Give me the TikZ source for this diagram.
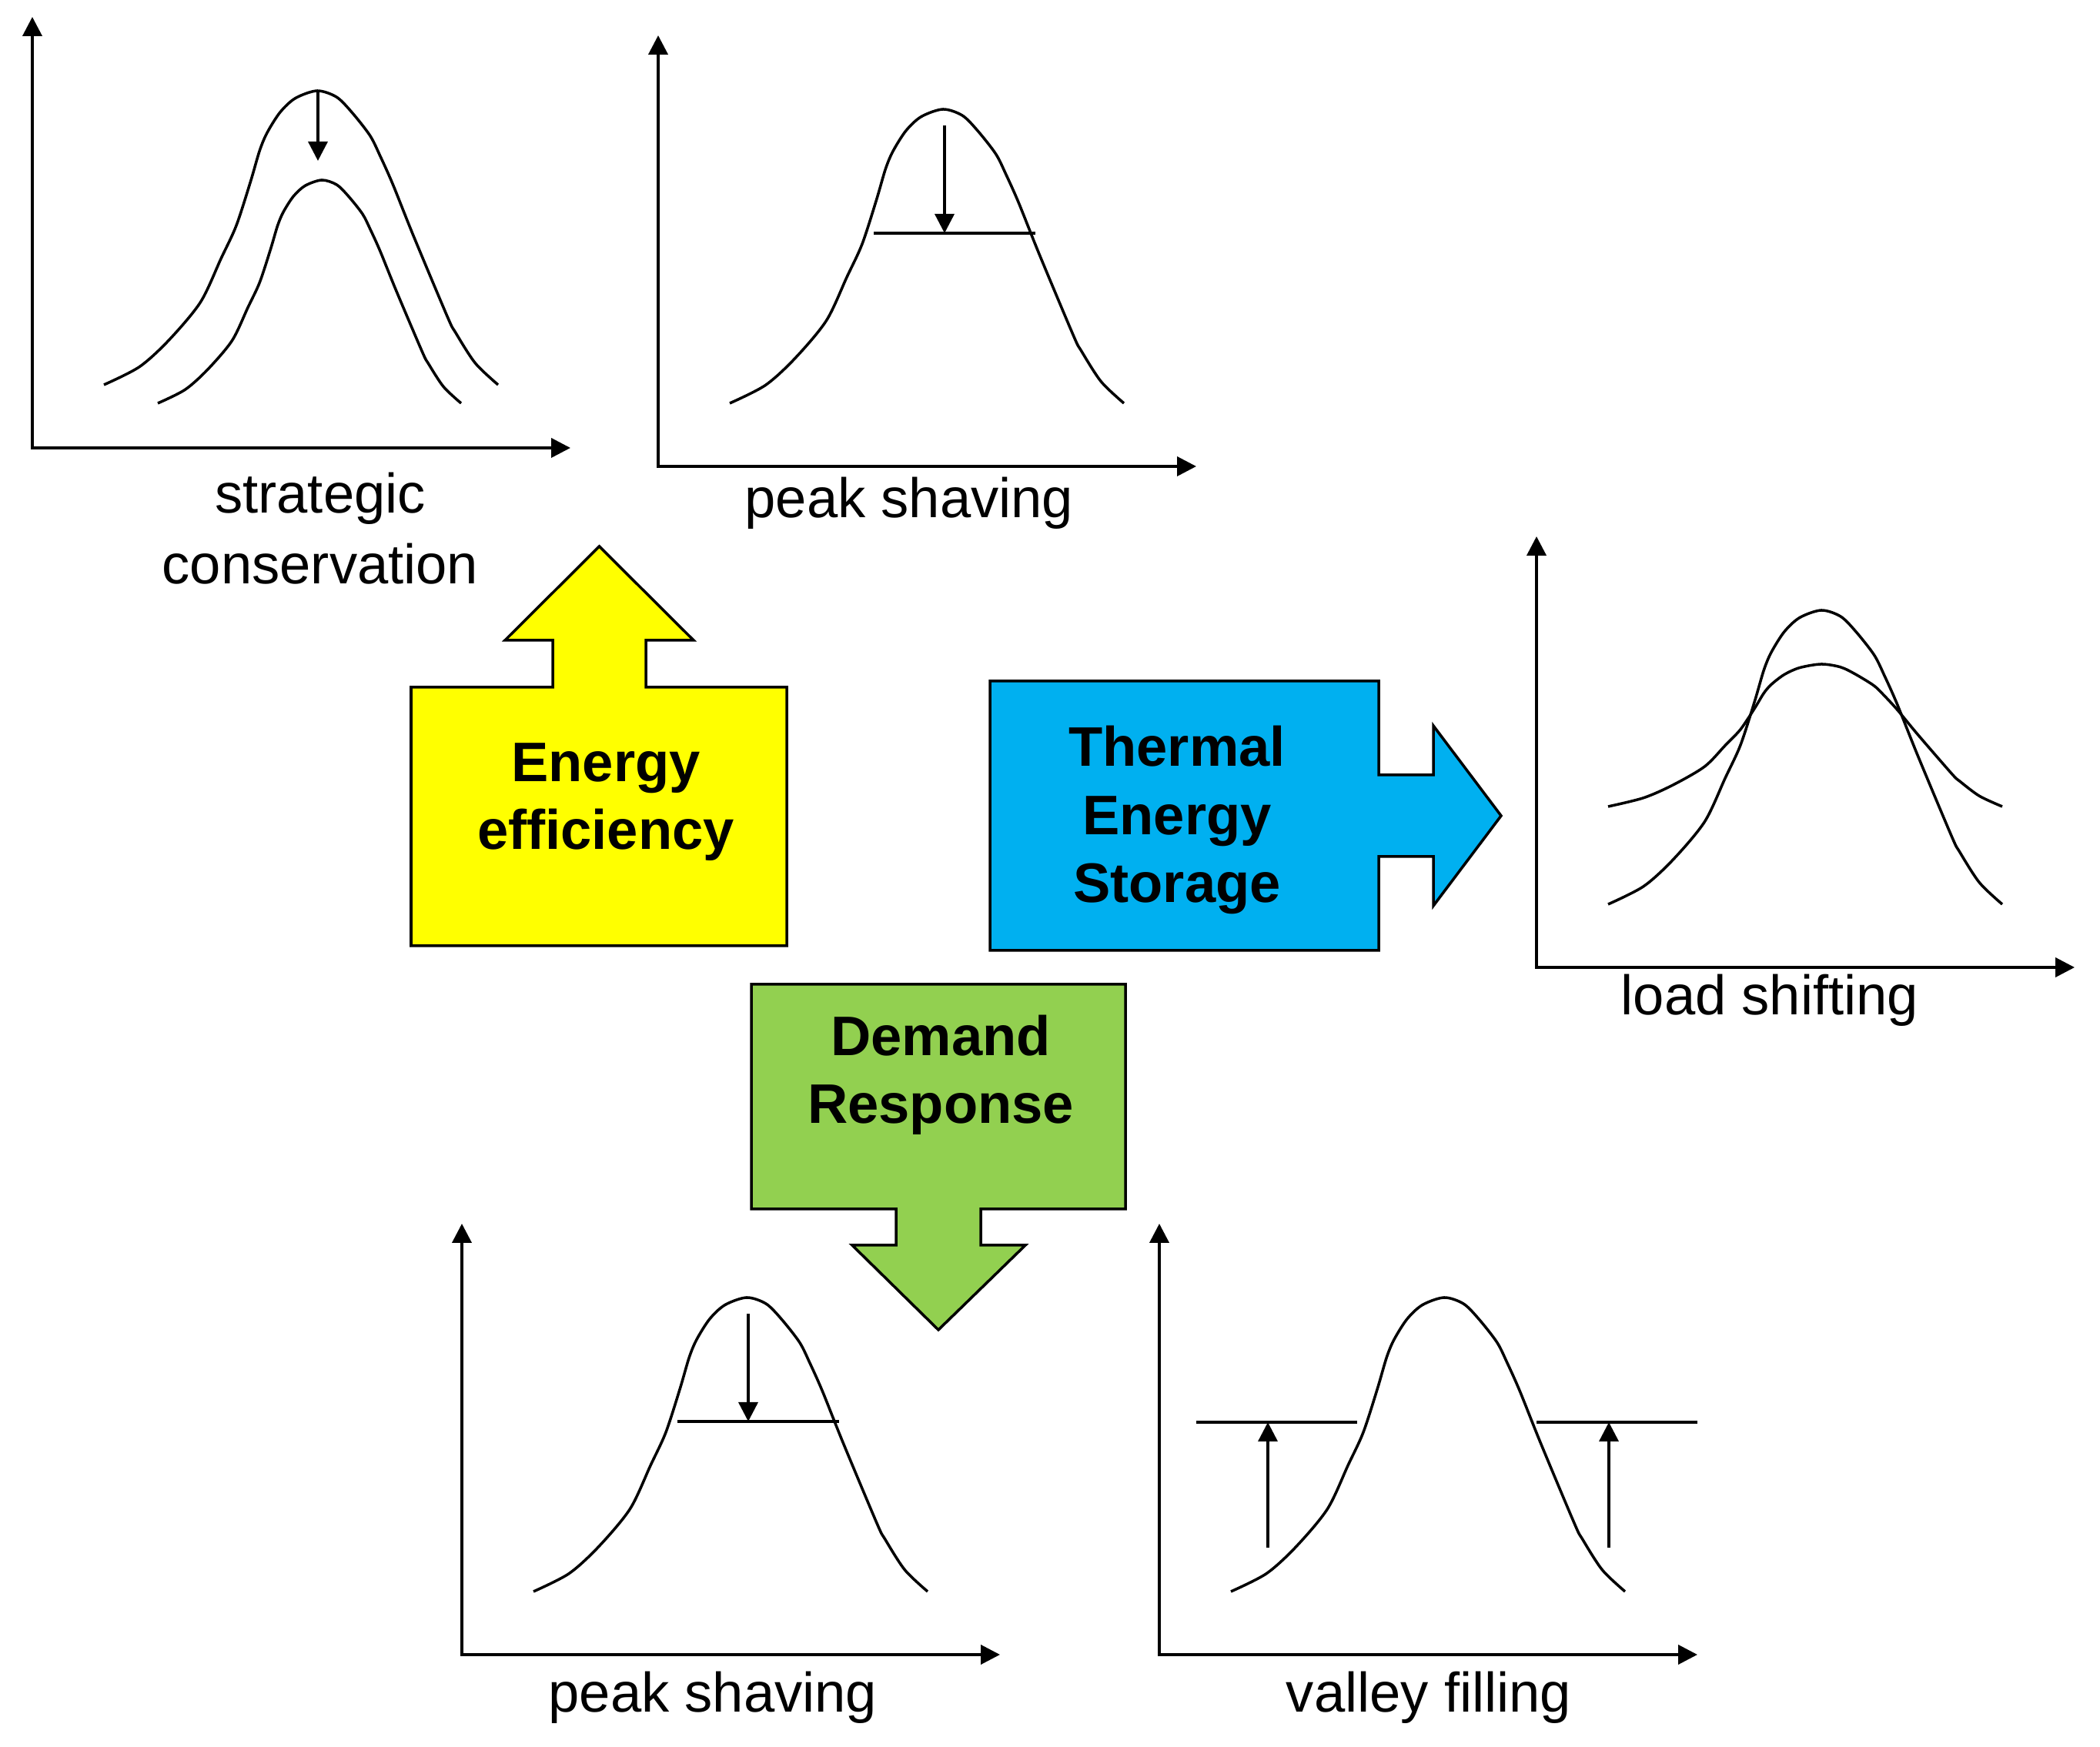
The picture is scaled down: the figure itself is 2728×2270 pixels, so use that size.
\documentclass[tikz,border=0pt]{standalone}
\usepackage{fontspec}
\setmainfont{Liberation Sans}
\usetikzlibrary{arrows.meta}
\definecolor{effyellow}{RGB}{255,255,0}
\definecolor{tesblue}{RGB}{0,176,240}
\definecolor{drgreen}{RGB}{146,208,80}

% one load curve, from (0,0) to (1,0), peak at height 1
\newcommand{\loadcurve}[1]{%
  \draw[loadline,#1] plot[smooth] coordinates {(0,0) (0.09,0.061) (0.165,0.152) (0.245,0.281) (0.297,0.429) (0.336,0.542) (0.372,0.691) (0.395,0.796) (0.414,0.857) (0.447,0.927) (0.486,0.975) (0.541,1) (0.59,0.979) (0.629,0.927) (0.675,0.848) (0.701,0.778) (0.733,0.682) (0.785,0.508) (0.872,0.23) (0.892,0.178) (0.942,0.074) (1,0)};}
% the two axes of one small plot
\newcommand{\plotaxes}[1]{%
  \coordinate (#1-o) at (0,0);
  \coordinate (#1-x) at (699,0);
  \coordinate (#1-y) at (0,560);
  \draw[axisline] (#1-y) -- (#1-o) -- (#1-x);}

\begin{document}
\begin{tikzpicture}[x=0.1mm,y=0.1mm,>={Triangle[length=2.5mm,width=2.5mm]},
    axisline/.style={<->,line width=1.1pt},
    loadline/.style={line width=1pt},
    plotlabel/.style={font=\fontsize{20.6}{26.2}\selectfont,align=center,anchor=base},
    boxtext/.style={font=\fontsize{20.6}{25.2}\selectfont\bfseries,align=center,anchor=base},
    bigarrow/.style={draw,line width=1pt,line join=miter}]
  \useasboundingbox (0,0) rectangle (2728,2270);

  % strategic conservation
  \begin{scope}[shift={(42,1688)}]
    \plotaxes{a}
    \loadcurve{shift={(93,82)},xscale=512,yscale=382}
    \loadcurve{shift={(163,58)},xscale=394,yscale=290}
    \coordinate (a-top) at (371,464);
    \coordinate (a-low) at (371,373);
    \draw[->,loadline] (a-top) -- (a-low);
  \end{scope}
  \node[plotlabel] (strat) at (416,1511) {strategic\\conservation};

  % peak shaving, top
  \begin{scope}[shift={(855,1664)}]
    \plotaxes{b}
    \loadcurve{shift={(93,82)},xscale=512,yscale=382}
    \coordinate (b-l) at (280,303);
    \coordinate (b-r) at (490,303);
    \coordinate (b-top) at (372,443);
    \coordinate (b-cut) at (372,303);
    \draw[loadline] (b-l) -- (b-r);
    \draw[->,loadline] (b-top) -- (b-cut);
  \end{scope}
  \node[plotlabel] (peaktop) at (1181,1597) {peak shaving};

  % load shifting
  \begin{scope}[shift={(1996,1013)}]
    \plotaxes{c}
    \loadcurve{shift={(93,82)},xscale=512,yscale=382}
    \loadcurve{shift={(93,209)},xscale=512,yscale=185}
  \end{scope}
  \node[plotlabel] (shift) at (2299,951) {load shifting};

  % peak shaving, bottom
  \begin{scope}[shift={(600,120)}]
    \plotaxes{d}
    \loadcurve{shift={(93,82)},xscale=512,yscale=382}
    \coordinate (d-l) at (280,303);
    \coordinate (d-r) at (490,303);
    \coordinate (d-top) at (372,443);
    \coordinate (d-cut) at (372,303);
    \draw[loadline] (d-l) -- (d-r);
    \draw[->,loadline] (d-top) -- (d-cut);
  \end{scope}
  \node[plotlabel] (peakbot) at (926,45) {peak shaving};

  % valley filling
  \begin{scope}[shift={(1506,120)}]
    \plotaxes{e}
    \loadcurve{shift={(93,82)},xscale=512,yscale=382}
    \coordinate (e-l1) at (48,302);
    \coordinate (e-l2) at (257,302);
    \coordinate (e-r1) at (490,302);
    \coordinate (e-r2) at (699,302);
    \coordinate (e-lb) at (141,139);
    \coordinate (e-lt) at (141,302);
    \coordinate (e-rb) at (584,139);
    \coordinate (e-rt) at (584,302);
    \draw[loadline] (e-l1) -- (e-l2) (e-r1) -- (e-r2);
    \draw[->,loadline] (e-lb) -- (e-lt);
    \draw[->,loadline] (e-rb) -- (e-rt);
  \end{scope}
  \node[plotlabel] (valley) at (1856,45) {valley filling};

  % the three block arrows
  \draw[bigarrow,fill=effyellow] (534,1041) -- (1022,1041) -- (1022,1377) -- (839,1377)
    -- (839,1438) -- (901,1438) -- (778.5,1560) -- (656,1438) -- (718,1438)
    -- (718,1377) -- (534,1377) -- cycle;
  \node[boxtext] (eff) at (787,1166) {Energy\\efficiency};

  \draw[bigarrow,fill=tesblue] (1286,1035) -- (1791,1035) -- (1791,1157) -- (1862,1157)
    -- (1862,1093) -- (1950,1210) -- (1862,1327) -- (1862,1263) -- (1791,1263)
    -- (1791,1385) -- (1286,1385) -- cycle;
  \node[boxtext] (tes) at (1529,1097) {Thermal\\Energy\\Storage};

  \draw[bigarrow,fill=drgreen] (976,991) -- (1462,991) -- (1462,699) -- (1274,699)
    -- (1274,652) -- (1332,652) -- (1219,542) -- (1107,652) -- (1164,652)
    -- (1164,699) -- (976,699) -- cycle;
  \node[boxtext] (dr) at (1222,810) {Demand\\Response};
\end{tikzpicture}
\end{document}
